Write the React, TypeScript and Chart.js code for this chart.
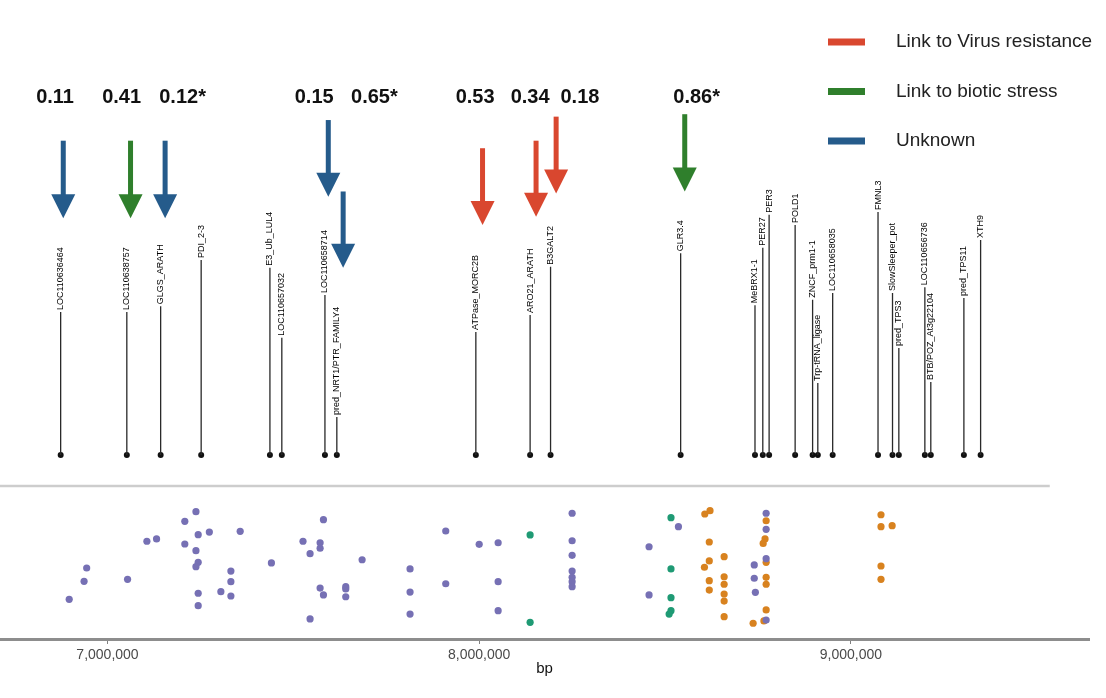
import { useEffect, useRef } from "react";
import { Chart, registerables } from "chart.js";

Chart.register(...registerables);

// ---------- gene track ----------
const geneNames = [
  "LOC110636464", "LOC110638757", "GLGS_ARATH", "PDI_2-3", "E3_Ub_LUL4", "LOC110657032",
  "LOC110658714", "pred_NRT1/PTR_FAMILY4", "ATPase_MORC2B", "ARO21_ARATH", "B3GALT2", "GLR3.4",
  "MeBRX1-1", "PER27", "PER3", "POLD1", "ZNCF_prm1-1", "Trp-tRNA_ligase", "LOC110658035",
  "FMNL3", "SlowSleeper_pot", "pred_TPS3", "LOC110656736", "BTB/POZ_At3g22104", "pred_TPS11", "XTH9",
];
const genePositions = [
  6874000, 7052000, 7143000, 7252000, 7437000, 7469000,
  7585000, 7617000, 7991000, 8137000, 8192000, 8542000,
  8742000, 8763000, 8780000, 8850000, 8897000, 8911000, 8951000,
  9073000, 9112000, 9129000, 9199000, 9215000, 9304000, 9349000,
];
const geneLevels = [
  35.8, 35.8, 37.0, 46.5, 44.9, 30.5,
  39.3, 14.2, 31.7, 35.2, 45.1, 47.9,
  37.2, 49.0, 55.8, 53.7, 38.3, 21.2, 39.7,
  56.4, 39.7, 28.4, 40.9, 21.4, 38.7, 50.6,
];
const geneBase = 6.4;

// ---------- arrows & scores ----------
const classLabels = ["Link to Virus resistance", "Link to biotic stress", "Unknown"];
const classColors = ["#d9472f", "#2f7f2c", "#255b8b"];
const arrowPositions = [6881000, 7062000, 7155000, 7594000, 7634000, 8009000, 8153000, 8207000, 8553000];
const arrowTops = [71.05, 71.05, 71.05, 75.3, 60.6, 69.5, 71.05, 76.0, 76.5];
const arrowTips = [55.1, 55.1, 55.1, 59.5, 44.9, 53.7, 55.4, 60.2, 60.6];
const arrowClass = [2, 1, 2, 2, 2, 0, 0, 0, 1];

const scoreLabels = ["0.11", "0.41", "0.12*", "0.15", "0.65*", "0.53", "0.34", "0.18", "0.86*"];
const scorePositions = [6859000, 7038000, 7202000, 7556000, 7718000, 7989000, 8137000, 8271000, 8585000];
const scoreLevel = 80.0;

// ---------- lower scatter track ----------
const purpleX = [
  6897000, 6937000, 6944000, 7054000, 7106000, 7132000, 7208000, 7238000, 7244000, 7274000,
  7208000, 7238000, 7244000, 7238000, 7244000, 7244000, 7357000, 7332000, 7332000, 7305000,
  7332000, 7441000, 7526000, 7581000, 7572000, 7572000, 7545000, 7685000, 7572000, 7581000,
  7641000, 7641000, 7641000, 7545000, 7814000, 7814000, 7814000, 7910000, 7910000, 8000000,
  8051000, 8051000, 8051000, 8250000, 8250000, 8250000, 8250000, 8250000, 8250000, 8250000,
  8457000, 8457000, 8536000, 8740000, 8740000, 8743000, 8772000, 8772000, 8772000, 8772000,
];
const purpleY = [
  2.59, 3.77, 4.64, 3.90, 6.39, 6.54, 7.69, 8.32, 6.82, 6.99,
  6.21, 5.77, 5.01, 4.73, 2.99, 2.18, 7.04, 4.44, 3.75, 3.09,
  2.81, 4.97, 6.39, 7.80, 6.29, 5.93, 5.58, 5.18, 3.33, 2.88,
  3.42, 3.27, 2.76, 1.31, 4.58, 3.07, 1.63, 7.06, 3.61, 6.19,
  6.29, 3.75, 1.85, 8.22, 6.42, 5.47, 4.44, 4.03, 3.75, 3.42,
  6.03, 2.88, 7.34, 4.84, 3.97, 3.05, 8.22, 7.17, 5.25, 1.24,
];
const greenX = [8137000, 8137000, 8516000, 8516000, 8516000, 8516000, 8511000];
const greenY = [6.80, 1.09, 7.93, 4.58, 2.70, 1.85, 1.63];
const orangeX = [
  8607000, 8621000, 8619000, 8619000, 8606000, 8619000, 8619000, 8659000, 8659000, 8659000,
  8659000, 8659000, 8659000, 8737000, 8772000, 8769000, 8764000, 8772000, 8772000, 8772000,
  8772000, 8766000, 9081000, 9081000, 9111000, 9081000, 9081000,
];
const orangeY = [
  8.17, 8.39, 6.34, 5.10, 4.69, 3.81, 3.20, 5.38, 4.07, 3.58,
  2.94, 2.48, 1.46, 1.03, 7.73, 6.54, 6.25, 5.01, 4.03, 3.58,
  1.90, 1.18, 8.12, 7.34, 7.41, 4.77, 3.90,
];
const pointColors = ["#7670b4", "#1f9a74", "#d8821f"];

// ---------- axis ----------
const xTicks = [7000000, 8000000, 9000000];
const xMin = 6710800;
const xMax = 9640600;
const separatorEnd = 9535000;
const xTitle = "bp";

const FONT = '"Liberation Sans", Arial, Helvetica, sans-serif';

const annotPlugin = {
  id: "annot",
  afterDatasetsDraw(chart: any) {
    const { ctx, scales, chartArea } = chart;
    const x = scales.x;
    const yg = scales.yGenes;
    const yp = scales.yPts;
    ctx.save();

    // separator between tracks
    ctx.strokeStyle = "#cdcdcd";
    ctx.lineWidth = 2.5;
    ctx.beginPath();
    ctx.moveTo(chartArea.left, yp.top);
    ctx.lineTo(x.getPixelForValue(separatorEnd), yp.top);
    ctx.stroke();

    // gene labels (rotated)
    ctx.font = `9px ${FONT}`;
    ctx.fillStyle = "#000";
    ctx.textAlign = "left";
    ctx.textBaseline = "middle";
    geneNames.forEach((name, i) => {
      const px = x.getPixelForValue(genePositions[i]);
      const py = yg.getPixelForValue(geneLevels[i]) - 2;
      ctx.save();
      ctx.translate(px, py);
      ctx.rotate(-Math.PI / 2);
      ctx.fillText(name, 0, 0);
      ctx.restore();
    });

    // arrows
    const headH = 24;
    const headW = 24;
    const shaftW = 5;
    arrowPositions.forEach((p, i) => {
      const px = x.getPixelForValue(p);
      const top = yg.getPixelForValue(arrowTops[i]);
      const tip = yg.getPixelForValue(arrowTips[i]);
      ctx.fillStyle = classColors[arrowClass[i]];
      ctx.fillRect(px - shaftW / 2, top, shaftW, tip - headH - top + 1);
      ctx.beginPath();
      ctx.moveTo(px - headW / 2, tip - headH);
      ctx.lineTo(px + headW / 2, tip - headH);
      ctx.lineTo(px, tip);
      ctx.closePath();
      ctx.fill();
    });

    // scores
    ctx.font = `bold 20px ${FONT}`;
    ctx.fillStyle = "#111";
    ctx.textAlign = "center";
    ctx.textBaseline = "middle";
    scoreLabels.forEach((s, i) => {
      ctx.fillText(s, x.getPixelForValue(scorePositions[i]), yg.getPixelForValue(scoreLevel));
    });

    // legend
    const lx = chartArea.right - 261;
    ctx.font = `19px ${FONT}`;
    ctx.textAlign = "left";
    ctx.textBaseline = "middle";
    classLabels.forEach((lab, i) => {
      const ly = 42 + i * 49.5;
      ctx.fillStyle = classColors[i];
      ctx.fillRect(lx, ly - 3.5, 37, 7);
      ctx.fillStyle = "#222";
      ctx.fillText(lab, lx + 68, ly);
    });

    ctx.restore();
  },
};

function buildStems() {
  const data: any[] = [];
  genePositions.forEach((p, i) => {
    data.push({ x: p, y: geneBase });
    data.push({ x: p, y: geneLevels[i] });
    data.push({ x: p, y: null });
  });
  return data;
}

const zip = (xs: number[], ys: number[]) => xs.map((v, i) => ({ x: v, y: ys[i] }));

export default function App() {
  const ref = useRef<HTMLCanvasElement>(null);
  useEffect(() => {
    if (!ref.current) return;
    const chart = new Chart(ref.current, {
      type: "scatter",
      data: {
        datasets: [
          {
            type: "line",
            label: "genes",
            data: buildStems(),
            yAxisID: "yGenes",
            borderColor: "#2a2a2a",
            borderWidth: 1.3,
            pointRadius: 0,
            spanGaps: false,
          } as any,
          {
            label: "gene start",
            data: genePositions.map((p) => ({ x: p, y: geneBase })),
            yAxisID: "yGenes",
            backgroundColor: "#111",
            borderWidth: 0,
            pointRadius: 3,
          },
          {
            label: "purple",
            data: zip(purpleX, purpleY),
            yAxisID: "yPts",
            backgroundColor: pointColors[0],
            borderWidth: 0,
            pointRadius: 3.6,
          },
          {
            label: "green",
            data: zip(greenX, greenY),
            yAxisID: "yPts",
            backgroundColor: pointColors[1],
            borderWidth: 0,
            pointRadius: 3.6,
          },
          {
            label: "orange",
            data: zip(orangeX, orangeY),
            yAxisID: "yPts",
            backgroundColor: pointColors[2],
            borderWidth: 0,
            pointRadius: 3.6,
          },
        ],
      },
      options: {
        animation: false,
        responsive: false,
        layout: { autoPadding: false, padding: { left: 0, right: 17, top: 0, bottom: 0 } },
        plugins: { legend: { display: false }, tooltip: { enabled: false }, title: { display: false } },
        scales: {
          x: {
            type: "linear",
            position: "bottom",
            min: xMin,
            max: xMax,
            afterBuildTicks: (s: any) => {
              s.ticks = xTicks.map((v) => ({ value: v }));
            },
            afterFit: (s: any) => {
              s.height = 59;
            },
            grid: { display: true, drawOnChartArea: false, drawTicks: true, tickLength: 5, color: "#808080" },
            border: { display: true, color: "#8d8d8d", width: 3 },
            ticks: {
              padding: 3,
              color: "#4a4a4a",
              font: { size: 14, family: FONT },
              maxRotation: 0,
              callback: (v: any) => Number(v).toLocaleString("en-US"),
            },
            title: { display: true, text: xTitle, color: "#111", font: { size: 15, family: FONT }, padding: { top: 0, bottom: 20 } },
          },
          yGenes: {
            type: "linear",
            display: false,
            min: 0,
            max: 100,
            stack: "tracks",
            stackWeight: 486,
            weight: 2,
          },
          yPts: {
            type: "linear",
            display: false,
            min: 0,
            max: 10,
            stack: "tracks",
            stackWeight: 153,
            weight: 1,
          },
        } as any,
      },
      plugins: [annotPlugin],
    });
    return () => chart.destroy();
  }, []);
  return (
    <div style={{ position: "fixed", left: 0, top: 0, width: 1106, height: 698, background: "#fff" }}>
      <canvas ref={ref} width={1106} height={698} style={{ width: 1106, height: 698, display: "block" }} />
    </div>
  );
}
